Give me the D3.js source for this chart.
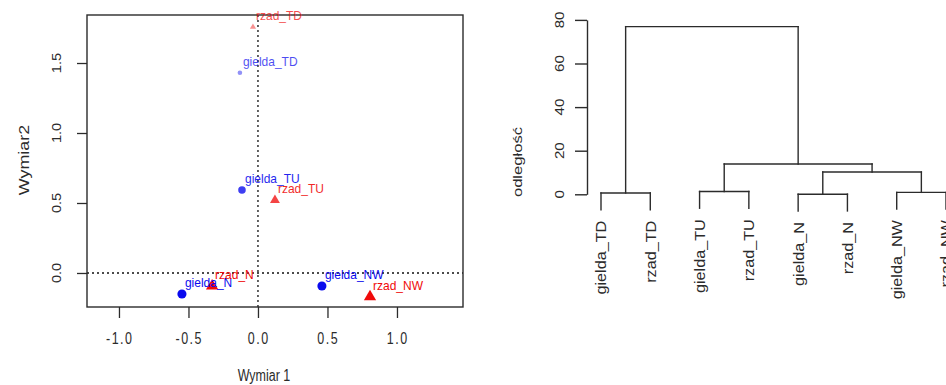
<!DOCTYPE html>
<html>
<head>
<meta charset="utf-8">
<script src="https://cdn.jsdelivr.net/npm/d3@7"></script>
<style>
  body { margin: 0; background: #fff; }
  svg { display: block; font-family: "Liberation Sans", Arial, sans-serif; }
</style>
</head>
<body>
<svg id="chart" width="946" height="385"></svg>
<script>
// MDS map data
const pointNames = ["gielda_TD", "rzad_TD", "gielda_TU", "rzad_TU", "gielda_N", "rzad_N", "gielda_NW", "rzad_NW"];
const pointGroup = ["gielda", "rzad", "gielda", "rzad", "gielda", "rzad", "gielda", "rzad"];
const dim1 = [-0.13, -0.036, -0.115, 0.122, -0.547, -0.33, 0.46, 0.806];
const dim2 = [1.43, 1.757, 0.593, 0.52, -0.15, -0.093, -0.093, -0.17];
const quality = [0.35, 0.35, 0.75, 0.72, 1, 1, 1, 1];
const xTicks = [-1.0, -0.5, 0.0, 0.5, 1.0];
const yTicks = [0.0, 0.5, 1.0, 1.5];

// dendrogram data (hclust-like merge list, negative = leaf index)
const leafOrder = ["gielda_TD", "rzad_TD", "gielda_TU", "rzad_TU", "gielda_N", "rzad_N", "gielda_NW", "rzad_NW"];
const mergeLeft = [-5, -1, -7, -3, 1, 4, 2];
const mergeRight = [-6, -2, -8, -4, 3, 5, 6];
const mergeHeight = [0.05, 0.6, 0.9, 1.3, 10.2, 13.9, 76.9];
const distTicks = [0, 20, 40, 60, 80];

const svg = d3.select("#chart");
const ink = "#2b2b2b";

function addText(parent, str, x, y, o) {
    const g = parent.append("g")
        .attr("transform", `translate(${x},${y}) scale(1,${o.sy || 1})`);
    g.append("text")
        .attr("transform", o.rot ? `rotate(${o.rot})` : null)
        .attr("text-anchor", o.anchor || "start")
        .attr("dx", o.dx || 0)
        .attr("dy", o.dy || 0)
        .style("font-size", o.size + "px")
        .style("letter-spacing", (o.ls || 0) + "px")
        .attr("fill", o.fill || ink)
        .attr("opacity", o.opacity == null ? 1 : o.opacity)
        .text(str);
}

// ---------- left panel: MDS map ----------
const box = {left: 87, right: 463, top: 15, bottom: 307};

const x = d3.scaleLinear().domain([-1.23, 1.475]).range([box.left, box.right]);
const y = d3.scaleLinear().domain([-0.243, 1.843]).range([box.bottom, box.top]);

const left = svg.append("g");

// dotted reference lines
left.append("line")
    .attr("x1", box.left).attr("x2", box.right)
    .attr("y1", y(0)).attr("y2", y(0))
    .attr("stroke", "#111").attr("stroke-width", 1.3)
    .attr("stroke-dasharray", "2,3");
left.append("line")
    .attr("x1", x(0)).attr("x2", x(0))
    .attr("y1", box.top).attr("y2", box.bottom)
    .attr("stroke", "#111").attr("stroke-width", 1.3)
    .attr("stroke-dasharray", "2,3");

// axes
const xAxis = left.append("g")
    .attr("transform", `translate(0,${box.bottom})`)
    .call(d3.axisBottom(x).tickValues(xTicks).tickSize(11).tickSizeOuter(0));
xAxis.select(".domain").remove();
xAxis.selectAll(".tick line").attr("stroke", ink).attr("stroke-width", 1.3);
xAxis.selectAll(".tick text").remove();
xTicks.forEach(v => addText(left, v.toFixed(1), x(v), 344,
    {size: 12.5, sy: 1.3, anchor: "middle", ls: 1.5, dx: 0.75}));

const yAxis = left.append("g")
    .attr("transform", `translate(${box.left},0)`)
    .call(d3.axisLeft(y).tickValues(yTicks).tickSize(10).tickSizeOuter(0));
yAxis.select(".domain").remove();
yAxis.selectAll(".tick line").attr("stroke", ink).attr("stroke-width", 1.3);
yAxis.selectAll(".tick text").remove();
yTicks.forEach(v => addText(left, v.toFixed(1), 61, y(v),
    {size: 13, sy: 1.12, anchor: "middle", rot: -90}));

// frame
left.append("rect")
    .attr("x", box.left).attr("y", box.top)
    .attr("width", box.right - box.left).attr("height", box.bottom - box.top)
    .attr("fill", "none").attr("stroke", ink).attr("stroke-width", 1.4);

addText(left, "Wymiar 1", 264, 381, {size: 12.5, sy: 1.3, anchor: "middle"});
addText(left, "Wymiar2", 29, 160, {size: 14, sy: 1.28, anchor: "middle", rot: -90});

// points
const groupColor = {gielda: "#0a0aee", rzad: "#f00a0a"};
const symbolArea = d3.scalePow().exponent(1.3).domain([0, 1]).range([0, 65]);
const pointAlpha = d3.scaleLinear().domain([0.35, 1]).range([0.45, 1]).clamp(true);
const labelAlpha = d3.scaleLinear().domain([0.35, 1]).range([0.72, 1]).clamp(true);

const points = pointNames.map((name, i) => ({
    name, group: pointGroup[i], d1: dim1[i], d2: dim2[i], q: quality[i]
}));

left.selectAll(".pt")
    .data(points)
    .enter()
    .append("path")
    .attr("class", "pt")
    .attr("transform", d => `translate(${x(d.d1)},${y(d.d2)})`)
    .attr("d", d => d3.symbol()
        .type(d.group === "gielda" ? d3.symbolCircle : d3.symbolTriangle)
        .size(symbolArea(d.q))())
    .attr("fill", d => groupColor[d.group])
    .attr("opacity", d => pointAlpha(d.q));

points.forEach(d => addText(left, d.name, x(d.d1) + 3, y(d.d2) - 7,
    {size: 12, sy: 1.05, fill: groupColor[d.group], opacity: labelAlpha(d.q)}));

// ---------- right panel: dendrogram ----------
const right = svg.append("g");

const xd = d3.scalePoint().domain(leafOrder).range([601, 946]);
const yd = d3.scaleLinear().domain([0, 80]).range([194.3, 19.9]);

const hang = 0.1 * (d3.max(mergeHeight) - d3.min(mergeHeight));

// position of each cluster: leaves and merges
const leafPos = i => ({x: xd(pointNames[i - 1]), h: null});
const nodes = [];
function nodeAt(ref) {
    return ref < 0 ? leafPos(-ref) : nodes[ref - 1];
}
const dendroLines = [];
mergeHeight.forEach((h, k) => {
    const a = nodeAt(mergeLeft[k]);
    const b = nodeAt(mergeRight[k]);
    const ha = a.h == null ? h - hang : a.h;
    const hb = b.h == null ? h - hang : b.h;
    dendroLines.push({x1: a.x, y1: ha, x2: a.x, y2: h});
    dendroLines.push({x1: b.x, y1: hb, x2: b.x, y2: h});
    dendroLines.push({x1: a.x, y1: h, x2: b.x, y2: h});
    [[mergeLeft[k], a], [mergeRight[k], b]].forEach(([ref, n]) => {
        if (ref < 0) {
            const name = pointNames[-ref - 1];
            addText(right, name, n.x, yd(h - hang) + 11,
                {size: 15, sy: 1.08, anchor: "end", rot: -90, dy: "0.36em"});
        }
    });
    nodes.push({x: (a.x + b.x) / 2, h});
});

right.selectAll(".seg")
    .data(dendroLines)
    .enter()
    .append("line")
    .attr("class", "seg")
    .attr("x1", d => d.x1).attr("x2", d => d.x2)
    .attr("y1", d => yd(d.y1)).attr("y2", d => yd(d.y2))
    .attr("stroke", ink).attr("stroke-width", 1.4)
    .attr("stroke-linecap", "square");

const dAxis = right.append("g")
    .attr("transform", "translate(587,0)")
    .call(d3.axisLeft(yd).tickValues(distTicks).tickSize(12).tickSizeOuter(0));
dAxis.select(".domain").attr("stroke", ink).attr("stroke-width", 1.4);
dAxis.selectAll(".tick line").attr("stroke", ink).attr("stroke-width", 1.4);
dAxis.selectAll(".tick text").remove();
distTicks.forEach(v => addText(right, String(v), 564, yd(v),
    {size: 13.5, sy: 1.12, anchor: "middle", rot: -90}));

addText(right, "odległość", 522, 162, {size: 13, sy: 1.28, anchor: "middle", rot: -90});
</script>
</body>
</html>
